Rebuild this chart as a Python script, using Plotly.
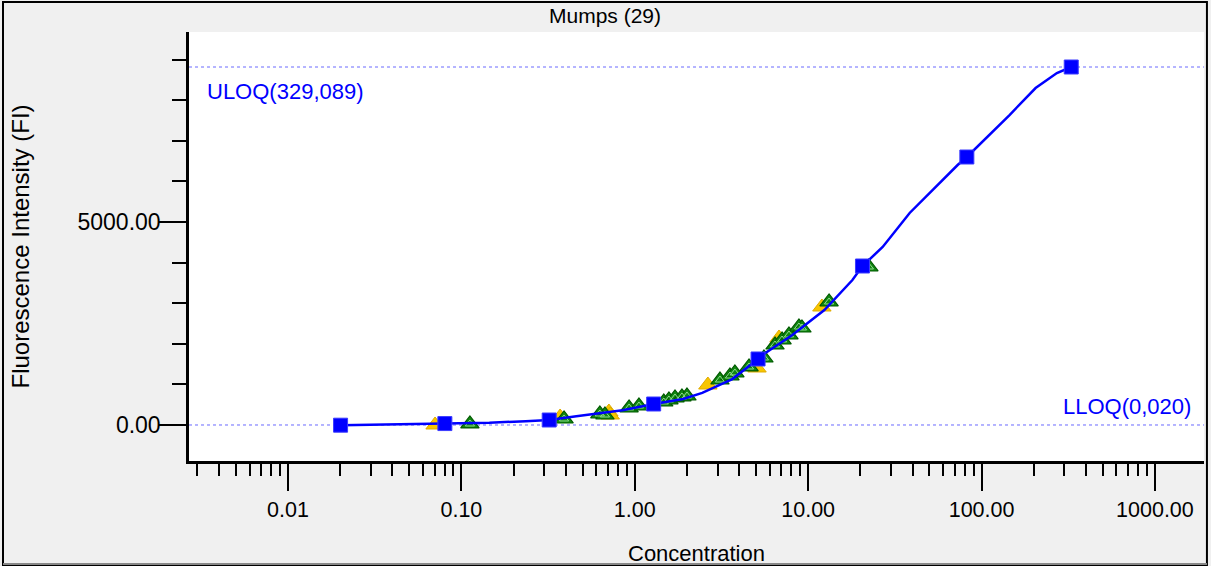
import plotly.graph_objects as go

# Standard curve (4-fold dilution series), concentration vs fluorescence intensity
std_conc = [0.0201, 0.0803, 0.321, 1.285, 5.14, 20.57, 82.27, 329.089]
std_fi = [-5, 35, 123, 517, 1626, 3916, 6601, 8818]

# Fitted curve traced between the standards
curve_conc = [0.0201, 0.047, 0.0803, 0.145, 0.235, 0.321, 0.46, 0.57, 0.85,
              1.285, 1.9, 2.45, 3.65, 5.14, 5.45, 8.1, 12.4, 18.0, 20.57,
              26.9, 38.5, 72.8, 82.27, 145.0, 205.0, 272.0, 329.089]
curve_fi = [-5, 20, 35, 55, 95, 123, 215, 265, 365,
            517, 640, 790, 1130, 1626, 1724, 2217, 2832, 3571, 3916,
            4384, 5222, 6404, 6601, 7635, 8300, 8670, 8818]

# Samples (green) and controls (yellow)
green_conc = [0.112, 0.391, 0.629, 0.673, 0.927, 1.057, 1.47, 1.574, 1.706,
              1.871, 2.0, 3.10, 3.54, 3.78, 4.56, 5.56, 6.44, 7.07, 7.75,
              8.85, 9.21, 13.2, 22.4]
green_fi = [25, 148, 271, 246, 419, 468, 566, 616, 665,
            690, 714, 1108, 1207, 1281, 1429, 1650, 1970, 2094, 2217,
            2414, 2389, 3030, 3892]
yellow_conc = [0.0705, 0.371, 0.709, 0.722, 2.64, 5.07, 6.79, 12.0]
yellow_fi = [0, 197, 320, 246, 985, 1404, 2143, 2906]

# Axis ticks
x_major = [0.01, 0.1, 1, 10, 100, 1000]
x_major_text = ["0.01", "0.10", "1.00", "10.00", "100.00", "1000.00"]
x_minor = [m * d for d in [0.001, 0.01, 0.1, 1, 10, 100] for m in range(2, 10)
           if 0.0027 < m * d < 1900]
y_major = [0, 5000]
y_major_text = ["0.00", "5000.00"]
y_minor = [1000, 2000, 3000, 4000, 6000, 7000, 8000, 9000]

ULOQ_FI = 8818
LLOQ_FI = 0

FONT = "Liberation Sans"

fig = go.Figure()

fig.add_trace(go.Scatter(
    x=yellow_conc, y=yellow_fi, mode="markers",
    marker=dict(symbol="triangle-up", size=16, color="#f7c600",
                line=dict(color="#e0aa00", width=1)),
    showlegend=False, hoverinfo="skip"))
fig.add_trace(go.Scatter(
    x=green_conc, y=green_fi, mode="markers",
    marker=dict(symbol="triangle-up", size=16, color="#108810",
                line=dict(color="#005a00", width=1.2)),
    showlegend=False, hoverinfo="skip"))
fig.add_trace(go.Scatter(
    x=green_conc, y=green_fi, mode="markers",
    marker=dict(symbol="triangle-up-open", size=8, color="#8fd88f",
                line=dict(color="#9fe09f", width=1)),
    showlegend=False, hoverinfo="skip"))
fig.add_trace(go.Scatter(
    x=curve_conc, y=curve_fi, mode="lines",
    line=dict(color="#0000ff", width=2.5),
    showlegend=False, hoverinfo="skip"))
fig.add_trace(go.Scatter(
    x=std_conc, y=std_fi, mode="markers",
    marker=dict(symbol="square", size=14, color="#0000ff",
                line=dict(color="#3b3bff", width=1)),
    showlegend=False, hoverinfo="skip"))

# ULOQ / LLOQ reference lines
for yv in (ULOQ_FI, LLOQ_FI):
    fig.add_shape(type="line", xref="paper", yref="y", x0=0, x1=1, y0=yv, y1=yv,
                  line=dict(color="#6a6aff", width=1, dash="dot"), layer="below")

fig.add_annotation(text="ULOQ(329,089)", xref="paper", yref="y", x=0.0158, y=ULOQ_FI,
                   xanchor="left", yanchor="top", yshift=-10, showarrow=False,
                   font=dict(family=FONT, size=22, color="#0000ff"))
fig.add_annotation(text="LLOQ(0,020)", xref="paper", yref="y", x=0.989, y=LLOQ_FI,
                   xanchor="right", yanchor="bottom", yshift=4, showarrow=False,
                   font=dict(family=FONT, size=22, color="#0000ff"))

# Title in the header band, centred on the page
fig.add_annotation(text="Mumps (29)", xref="paper", yref="paper",
                   x=(605 - 189) / 1015, y=1 + 16 / 429,
                   xanchor="center", yanchor="middle", showarrow=False,
                   font=dict(family=FONT, size=21, color="#000000"))

# Y axis title close to the left frame
fig.add_annotation(text="Fluorescence Intensity (FI)", xref="paper", yref="paper",
                   x=(20 - 189) / 1015, y=0.5, textangle=-90,
                   xanchor="center", yanchor="middle", showarrow=False,
                   font=dict(family=FONT, size=24, color="#000000"))

# Outer frame
fig.add_shape(type="rect", xref="paper", yref="paper",
              x0=-186 / 1015, x1=1.0029, y0=-105 / 429, y1=1 + 30 / 429,
              line=dict(color="#000000", width=2), layer="below")
fig.add_shape(type="line", xref="paper", yref="paper",
              x0=-186 / 1015, x1=1.0029, y0=-103 / 429, y1=-103 / 429,
              line=dict(color="#888888", width=2), layer="below")

fig.update_layout(
    width=1211, height=566,
    margin=dict(l=189, r=7, t=32, b=105, autoexpand=False),
    paper_bgcolor="#f0f0f0", plot_bgcolor="#ffffff",
    font=dict(family=FONT, size=22, color="#000000"),
)

fig.update_xaxes(
    type="log", range=[-2.571, 3.283], automargin=False,
    tickmode="array", tickvals=x_major, ticktext=x_major_text,
    ticks="outside", ticklen=27, tickwidth=2, tickcolor="#000000",
    minor=dict(tickmode="array", tickvals=x_minor, ticks="outside",
               ticklen=12, tickwidth=2, tickcolor="#000000"),
    showgrid=False, zeroline=False,
    showline=True, linecolor="#000000", linewidth=2.5,
    tickfont=dict(family=FONT, size=21.5),
    title=dict(text="Concentration", font=dict(family=FONT, size=22), standoff=26),
)
fig.update_yaxes(
    range=[-887, 9680], automargin=False,
    tickmode="array", tickvals=y_major, ticktext=y_major_text,
    ticks="outside", ticklen=27, tickwidth=2, tickcolor="#000000",
    minor=dict(tickmode="array", tickvals=y_minor, ticks="outside",
               ticklen=14, tickwidth=2, tickcolor="#000000"),
    showgrid=False, zeroline=False,
    showline=True, linecolor="#000000", linewidth=2.5,
    tickfont=dict(family=FONT, size=23), ticklabelstandoff=-6,
)

fig.write_html("out.html")
